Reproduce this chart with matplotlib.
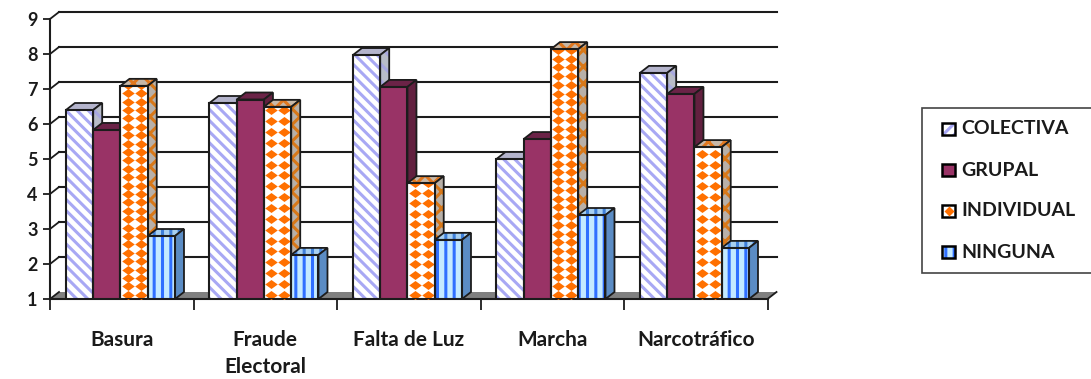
#script to redraw the 3D style column chart of protest types per topic

import matplotlib
matplotlib.use('Agg')
import matplotlib.pyplot as plt
from matplotlib.patches import Polygon, Rectangle
from matplotlib.lines import Line2D

plt.rcParams['font.family'] = ['Lato', 'DejaVu Sans']
plt.rcParams['hatch.linewidth'] = 2.2

categories = ['Basura', 'Fraude\nElectoral', 'Falta de Luz', 'Marcha', 'Narcotráfico']
series_names = ['COLECTIVA', 'GRUPAL', 'INDIVIDUAL', 'NINGUNA']
colectiva = [6.4, 6.6, 7.97, 5.0, 7.46]
grupal = [5.83, 6.7, 7.06, 5.57, 6.86]
individual = [7.09, 6.49, 4.31, 8.14, 5.34]
ninguna = [2.8, 2.26, 2.69, 3.4, 2.46]
y_ticks = [1, 2, 3, 4, 5, 6, 7, 8, 9]

W, H = 1091, 379
BAR = 0.19
GAP = 0.111
DX = 9 / 143.5
DY = 0.2
MAROON = '#993366'
EDGE = '#1c1c1c'
TEXT = '#1a1a1a'
DIAMOND = [(-1, 0), (0, 0.72), (1, 0), (0, -0.72)]
ROW_STEPS = [0.24, 0.31, 0.29, 0.25, 0.31]


def draw_bar(ax, x, v, style, row_step=0.31):
    top = (x, v), (x + BAR, v), (x + BAR + DX, v + DY), (x + DX, v + DY)
    side = (x + BAR, 1), (x + BAR + DX, 1 + DY), (x + BAR + DX, v + DY), (x + BAR, v)
    if style == 'c':
        ax.add_patch(Polygon(top, fc='#b4b4cc', ec=EDGE, lw=1.3, zorder=3))
        ax.add_patch(Polygon(side, fc='#b8bcc8', ec='#a8a8e0', hatch='\\\\', lw=0, zorder=3))
        ax.add_patch(Polygon(side, fc='none', ec=EDGE, lw=1.3, zorder=3))
        ax.bar(x, v - 1, BAR, 1, align='edge', fc='white', ec='#a8a8f4', hatch='\\\\\\', lw=0, zorder=4)
    elif style == 'g':
        ax.add_patch(Polygon(top, fc='#6b2347', ec=EDGE, lw=1.3, zorder=3))
        ax.add_patch(Polygon(side, fc='#62203f', ec=EDGE, lw=1.3, zorder=3))
        ax.bar(x, v - 1, BAR, 1, align='edge', fc=MAROON, lw=0, zorder=4)
    elif style == 'i':
        ax.add_patch(Polygon(top, fc='#c8b8a8', ec='#e07820', hatch='xx', lw=0, zorder=3))
        ax.add_patch(Polygon(top, fc='none', ec=EDGE, lw=1.3, zorder=3))
        ax.add_patch(Polygon(side, fc='#b8b0a8', ec='#d87818', hatch='xx', lw=0, zorder=3))
        ax.add_patch(Polygon(side, fc='none', ec=EDGE, lw=1.3, zorder=3))
        rect = ax.bar(x, v - 1, BAR, 1, align='edge', fc='white', lw=0, zorder=4)[0]
        # diamonds in two columns, clipped to the bar face
        for col in (0.27, 0.75):
            n = int((v - 1) / row_step) + 1
            ys = [1 + 0.12 + k * row_step for k in range(n)]
            m = ax.plot([x + col * BAR] * n, ys, ls='', marker=DIAMOND, ms=9, mfc='#ff7000', mec='none', zorder=5)[0]
            m.set_clip_path(rect)
    else:
        ax.add_patch(Polygon(top, fc='#a8d0f0', ec='#3f7fd8', hatch='||', lw=0, zorder=3))
        ax.add_patch(Polygon(top, fc='none', ec=EDGE, lw=1.3, zorder=3))
        ax.add_patch(Polygon(side, fc='#5b8cc4', ec=EDGE, lw=1.3, zorder=3))
        ax.bar(x, v - 1, BAR, 1, align='edge', fc='#c4eaff', ec='#2f6fff', hatch='||', lw=0, zorder=4)
    ax.add_patch(Rectangle((x, 1), BAR, v - 1, fc='none', ec=EDGE, lw=1.5, zorder=6))


def main():
    fig = plt.figure(figsize=(W / 100, H / 100), dpi=100)
    ax = fig.add_axes([50 / W, 1 - 299 / H, 717.5 / W, 280 / H])
    ax.set_xlim(0, 5)
    ax.set_ylim(1, 9)
    ax.patch.set_visible(False)
    for s in ['top', 'right']:
        ax.spines[s].set_visible(False)
    for s in ['left', 'bottom']:
        ax.spines[s].set_linewidth(1.5)
        ax.spines[s].set_color(EDGE)

    # floor
    ax.add_patch(Polygon([(0, 1), (5, 1), (5 + DX, 1 + DY), (DX, 1 + DY)], fc='#808080', ec='none', zorder=1,
                         clip_on=False))
    # back wall grid and the slanted lines on the side wall
    for t in y_ticks[1:]:
        ax.plot([DX, 5 + DX], [t + DY, t + DY], color=EDGE, lw=1.5, zorder=1, clip_on=False)
    for t in y_ticks:
        ax.plot([0, DX], [t, t + DY], color=EDGE, lw=1.3, zorder=1, clip_on=False)
    ax.plot([5, 5 + DX], [1, 1 + DY], color=EDGE, lw=1.3, zorder=1, clip_on=False)

    for i in range(len(categories)):
        left = i + GAP
        draw_bar(ax, left, colectiva[i], 'c')
        draw_bar(ax, left + BAR, grupal[i], 'g')
        draw_bar(ax, left + 2 * BAR, individual[i], 'i', ROW_STEPS[i])
        draw_bar(ax, left + 3 * BAR, ninguna[i], 'n')

    ax.set_yticks(y_ticks)
    ax.set_xticks(range(6))
    ax.set_xticklabels([])
    ax.tick_params(axis='y', length=5, width=1.3, color=EDGE, labelsize=13, pad=4, labelcolor=TEXT)
    ax.tick_params(axis='x', length=8, width=1.3, color=EDGE)
    for lab in ax.get_yticklabels():
        lab.set_fontweight('bold')
    for i, c in enumerate(categories):
        ax.text(i + 0.5, 1 - 30.5 / 35, c, ha='center', va='top', fontsize=15, fontweight='bold',
                linespacing=1.45, clip_on=False, color=TEXT)

    # legend box in figure pixels, it runs off the right side of the picture
    fig.add_artist(Rectangle((922 / W, 1 - 272.5 / H), 190 / W, 164.5 / H, transform=fig.transFigure,
                             fc='white', ec='#444444', lw=1.2))
    rows = [129, 170, 211, 252]
    styles = [('white', '#a8a8f4', '///'), (MAROON, MAROON, None), ('white', '#ff7000', None), ('#c4eaff', '#2f6fff', '||')]
    for name, yp, (fc, hc, h) in zip(series_names, rows, styles):
        box = (942 / W, 1 - (yp + 6) / H)
        fig.add_artist(Rectangle(box, 13 / W, 12 / H, transform=fig.transFigure, fc=fc, ec=hc, lw=0, hatch=h))
        if name == 'INDIVIDUAL':
            fig.add_artist(Line2D([948.5 / W], [1 - yp / H], transform=fig.transFigure, marker='D', ms=5,
                                  mfc='#ff7000', mec='none', ls=''))
        fig.add_artist(Rectangle(box, 13 / W, 12 / H, transform=fig.transFigure, fc='none', ec='black', lw=1.8))
        fig.text(961 / W, 1 - yp / H, name, va='center', ha='left', fontsize=14, fontweight='bold', color=TEXT)

    fig.savefig('out.png', dpi=100)


if __name__ == '__main__':
    main()
